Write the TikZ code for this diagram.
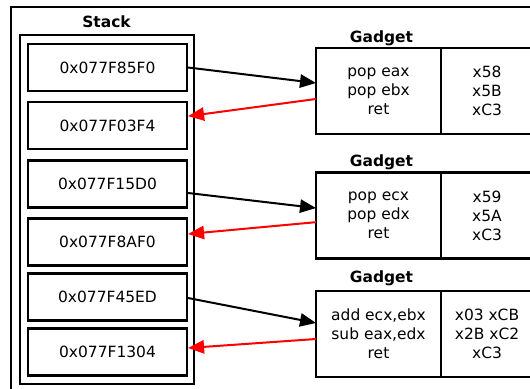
\documentclass[tikz,border=0pt]{standalone}
\usepackage{fontspec}
\setmainfont{DejaVu Sans}
\usepackage{tikz}
\usetikzlibrary{arrows.meta}
\usetikzlibrary{positioning}

\begin{document}
\begin{tikzpicture}[x=0.75pt,y=-0.75pt,
		frame/.style={line width=1.6pt},
		addr/.style={draw,line width=1.6pt,minimum width=119.25pt,minimum height=35.25pt,inner sep=0pt,font=\fontsize{11.6}{14.25}\selectfont},
		cell/.style={draw,line width=1.6pt,minimum height=64.5pt,inner sep=0pt,outer sep=0pt,align=center,font=\fontsize{11.6}{14.25}\selectfont},
		lbl/.style={anchor=base,inner sep=0pt,font=\fontsize{11.6}{14}\selectfont\bfseries},
		go/.style={line width=1.5pt,-{Triangle[length=12pt,width=10pt]}},
		back/.style={go,red}]
		\useasboundingbox (0,0) rectangle (530,388);
		\clip (0,0) rectangle (530,388);
		\draw[frame] (11,7) rectangle (545,400);
		\draw[frame] (20,35) rectangle (194,384);
		\node[lbl] (stack) at (106.5,27.5) {Stack};
		
		\node[addr] (a1) at (107.5,67.5) {0x077F85F0};
		\node[addr] (a2) at (107.5,125.5) {0x077F03F4};
		\node[addr] (a3) at (107.5,184) {0x077F15D0};
		\node[addr] (a4) at (107.5,242) {0x077F8AF0};
		\node[addr] (a5) at (107.5,297) {0x077F45ED};
		\node[addr] (a6) at (107.5,352) {0x077F1304};
		
		\node[lbl] (t1) at (381.5,42.5) {Gadget};
		\node[cell,minimum width=93.75pt] (g1) at (378.5,91) {pop eax\\pop ebx\\ret};
		\node[cell,minimum width=69pt,anchor=west] (c1) at (g1.east) {x58\\x5B\\xC3};
		\node[lbl] (t2) at (381.5,166.5) {Gadget};
		\node[cell,minimum width=93.75pt] (g2) at (378.5,215.5) {pop ecx\\pop edx\\ret};
		\node[cell,minimum width=69pt,anchor=west] (c2) at (g2.east) {x59\\x5A\\xC3};
		\node[lbl] (t3) at (381.5,282.5) {Gadget};
		\node[cell,minimum width=93.75pt] (g3) at (378.5,334) {add ecx,ebx\\sub eax,edx\\ret};
		\node[cell,minimum width=69pt,anchor=west] (c3) at (g3.east) {x03 xCB\\x2B xC2\\xC3};
		
		\draw[go] (a1.east) -- ([yshift=6pt]g1.west);
		\draw[back] ([yshift=-6pt]g1.west) -- ([yshift=7pt]a2.east);
		\draw[go] ([yshift=-6.75pt]a3.east) -- ([yshift=5.6pt]g2.west);
		\draw[back] ([yshift=-5pt]g2.west) -- ([yshift=6pt]a4.east);
		\draw[go] ([yshift=-0.75pt]a5.east) -- ([yshift=8.25pt]g3.west);
		\draw[back] ([yshift=-3.75pt]g3.west) -- ([yshift=3pt]a6.east);
	\end{tikzpicture}
\end{document}
